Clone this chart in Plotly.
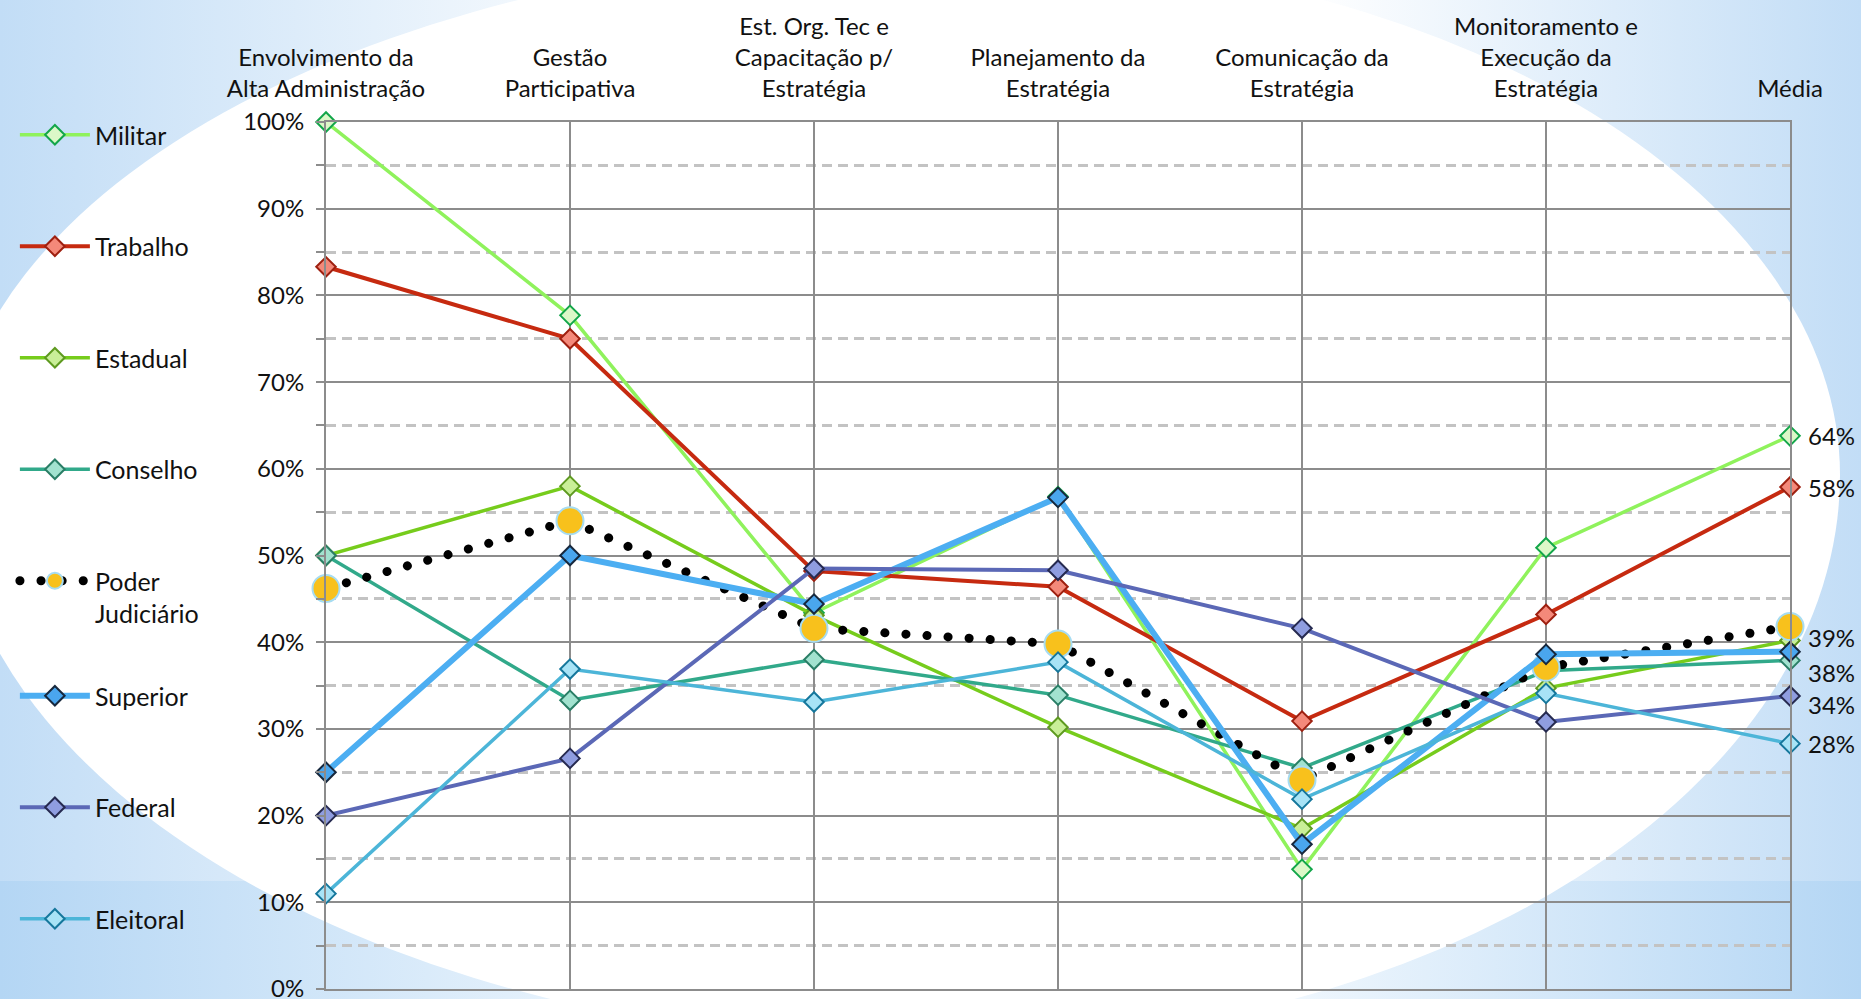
import base64
import plotly.graph_objects as go

# --- data ---
categories = [
    "Envolvimento da<br>Alta Administração",
    "Gestão<br>Participativa",
    "Est. Org. Tec e<br>Capacitação p/<br>Estratégia",
    "Planejamento da<br>Estratégia",
    "Comunicação da<br>Estratégia",
    "Monitoramento e<br>Execução da<br>Estratégia",
    "Média",
]

militar = [1.000, 0.777, 0.434, 0.568, 0.138, 0.509, 0.638]
trabalho = [0.833, 0.750, 0.482, 0.464, 0.309, 0.432, 0.579]
estadual = [0.500, 0.580, 0.431, 0.302, 0.185, 0.347, 0.402]
conselho = [0.500, 0.333, 0.380, 0.339, 0.255, 0.367, 0.379]
poder_judiciario = [0.462, 0.540, 0.416, 0.398, 0.241, 0.371, 0.418]
superior = [0.250, 0.500, 0.444, 0.567, 0.167, 0.386, 0.389]
federal = [0.200, 0.266, 0.485, 0.483, 0.416, 0.308, 0.338]
eleitoral = [0.110, 0.369, 0.331, 0.377, 0.219, 0.341, 0.283]

series = [
    ("Militar", militar),
    ("Trabalho", trabalho),
    ("Estadual", estadual),
    ("Conselho", conselho),
    ("Poder<br>Judiciário", poder_judiciario),
    ("Superior", superior),
    ("Federal", federal),
    ("Eleitoral", eleitoral),
]

# series that carry a value label at the last point
labelled = ["Militar", "Trabalho", "Superior", "Conselho", "Federal", "Eleitoral"]
# second legend block (lower part of the left side)
lower_legend = ["Superior", "Federal", "Eleitoral"]

# --- styles ---
FONT = "Lato"
W, H = 1861, 999
M = dict(l=326, r=71, t=122, b=10)

styles = {
    "Militar":   dict(line="#8ff25c", width=3.5, fill="#dcf8c8", edge="#13a64a", sym="diamond", size=15),
    "Trabalho":  dict(line="#c62a10", width=4,   fill="#f4897a", edge="#9e2010", sym="diamond", size=15),
    "Estadual":  dict(line="#76cc1c", width=3.5, fill="#c9ef98", edge="#5e9a20", sym="diamond", size=15),
    "Conselho":  dict(line="#31a98a", width=3.5, fill="#a2e2cf", edge="#2a7e66", sym="diamond", size=15),
    "Poder<br>Judiciário": dict(line="#000000", width=9, fill="#f8c11c", edge="#a6dcf2", sym="circle", size=27,
                                dash="9px,12px"),
    "Superior":  dict(line="#4caef2", width=6,   fill="#4aa6ee", edge="#17283d", sym="diamond", size=15),
    "Federal":   dict(line="#5b68b6", width=4,   fill="#8f9de0", edge="#262a50", sym="diamond", size=15),
    "Eleitoral": dict(line="#4cb5d8", width=3.5, fill="#a8e3f6", edge="#15779c", sym="diamond", size=15),
}
label_shift = {"Superior": 14, "Conselho": -12, "Federal": -9}

# background: light blue corners with a large white oval in the middle
svg = f'''<svg xmlns="http://www.w3.org/2000/svg" width="{W}" height="{H}" viewBox="0 0 {W} {H}" preserveAspectRatio="none">
<defs>
<linearGradient id="g1" x1="0" y1="0" x2="1" y2="0">
<stop offset="0" stop-color="#c2ddf6"/><stop offset="0.36" stop-color="#ffffff"/>
<stop offset="0.7" stop-color="#ffffff"/><stop offset="1" stop-color="#c2ddf6"/>
</linearGradient>
<linearGradient id="g2" x1="0" y1="0" x2="1" y2="0">
<stop offset="0" stop-color="#b4d6f4"/><stop offset="0.35" stop-color="#eef6fd"/>
<stop offset="0.7" stop-color="#eef6fd"/><stop offset="1" stop-color="#b4d6f4"/>
</linearGradient>
</defs>
<rect width="{W}" height="{H}" fill="url(#g1)"/>
<rect y="881" width="{W}" height="{H - 881}" fill="url(#g2)"/>
<path d="M940,-50 A900,525 0 0 1 1840,475 A900,570 0 0 1 940,1045 A990,570 0 0 1 -50,475 A990,525 0 0 1 940,-50 Z" fill="#ffffff"/>
</svg>'''
bg_src = "data:image/svg+xml;base64," + base64.b64encode(svg.encode()).decode()

pw = W - M["l"] - M["r"]
ph = H - M["t"] - M["b"]

fig = go.Figure()

for name, vals in series:
    s = styles[name]
    fig.add_trace(go.Scatter(
        x=categories, y=vals, name=name,
        mode="lines+markers",
        cliponaxis=False,
        legend="legend2" if name in lower_legend else "legend",
        legendgroup=name,
        line=dict(color=s["line"], width=s["width"], dash=s.get("dash", "solid")),
        marker=dict(symbol=s["sym"], size=s["size"], color=s["fill"],
                    line=dict(color=s["edge"], width=2)),
        hovertemplate="%{y:.0%}<extra>" + name + "</extra>",
    ))

for name, vals in series:
    if name in labelled:
        fig.add_annotation(x=categories[-1], y=vals[-1], text=f"{vals[-1]:.0%}",
                           showarrow=False, xanchor="left", xshift=16,
                           yshift=label_shift.get(name, 0),
                           font=dict(family=FONT, size=24, color="#111111"))

legend_style = dict(xref="container", yref="container", x=0.008, xanchor="left", yanchor="top",
                    bgcolor="rgba(0,0,0,0)", font=dict(family=FONT, size=25, color="#111111"),
                    itemwidth=70, traceorder="grouped", tracegroupgap=76, valign="top",
                    maxheight=900)

fig.update_layout(
    width=W, height=H,
    margin=dict(**M, autoexpand=False),
    paper_bgcolor="white",
    plot_bgcolor="rgba(0,0,0,0)",
    font=dict(family=FONT, size=24, color="#111111"),
    showlegend=True,
    legend=dict(legend_style, y=1 - 112 / H),
    legend2=dict(legend_style, y=1 - 673 / H),
    images=[dict(source=bg_src, xref="paper", yref="paper",
                 x=-M["l"] / pw, y=1 + M["t"] / ph, sizex=W / pw, sizey=H / ph,
                 xanchor="left", yanchor="top", sizing="stretch", layer="below")],
    xaxis=dict(type="category", side="top", range=[0, len(categories) - 1],
               showgrid=True, gridcolor="#8c8c8c", gridwidth=2,
               showline=True, linecolor="#8c8c8c", linewidth=2, mirror=True,
               ticks="", automargin=False, ticklabelstandoff=13,
               tickfont=dict(family=FONT, size=24, color="#111111")),
    yaxis=dict(range=[0, 1], tickformat=".0%", dtick=0.1,
               showgrid=True, gridcolor="#8c8c8c", gridwidth=2,
               showline=True, linecolor="#8c8c8c", linewidth=2, mirror=True,
               zeroline=False, ticks="outside", ticklen=8, tickwidth=2, tickcolor="#8c8c8c",
               ticklabelstandoff=7, automargin=False, ticklabeloverflow="allow",
               tickfont=dict(family=FONT, size=24, color="#111111"),
               minor=dict(dtick=0.05, showgrid=True, gridcolor="#c3c3c3", gridwidth=2.5,
                          griddash="10px,6px", ticks="outside", ticklen=8, tickwidth=2,
                          tickcolor="#8c8c8c")),
)

# page without body margin; the black dotted series drawn with round dots
post = """
document.body.style.margin = '0';
var gd = document.getElementById('{plot_id}');
function roundDots() {
  gd.querySelectorAll('path.js-line').forEach(function (p) {
    if (p.style.stroke === 'rgb(0, 0, 0)') {
      p.style.strokeLinecap = 'round';
      p.style.strokeDasharray = '0.1px,21px';
    }
  });
}
roundDots();
gd.on('plotly_afterplot', roundDots);
"""

fig.write_html("out.html", post_script=post, config={"displayModeBar": False})
